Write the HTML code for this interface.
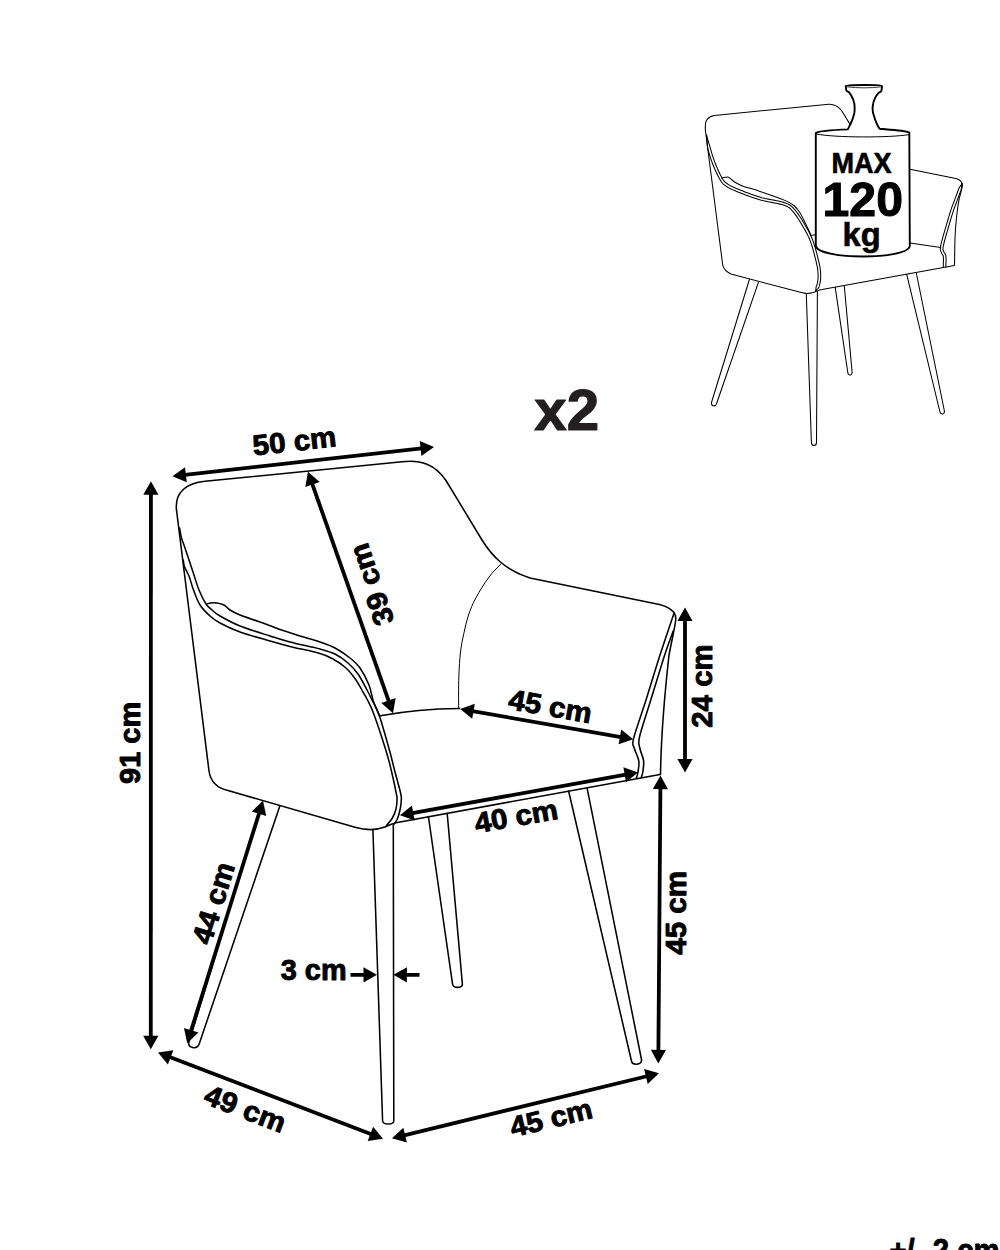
<!DOCTYPE html>
<html><head><meta charset="utf-8"><style>
html,body{margin:0;padding:0;background:#fff;}
body{width:1000px;height:1250px;overflow:hidden;}
svg{display:block;}
text{font-family:"Liberation Sans", sans-serif;}
</style></head><body>
<svg width="1000" height="1250" viewBox="0 0 1000 1250">
<g fill="none" stroke="#000" stroke-width="1.55" stroke-linejoin="round" stroke-linecap="round"><path d="M176.5,510 C174.5,492 187,483 205,481.3 L402,461.8 C421,459.5 435,464.5 446,480.5 L482,540 C492,556 505,570 530,578 L659.4,604.4 C666,606 671,609 673.8,612.3 C675.5,614.5 676,617 675.7,620 C675,626 674,630 673.8,631 L669,655 C664,700 661,740 660.5,774.5"/>
<path d="M176.5,510 L209,771 C210.5,781.5 216.5,788 228,790.5 L355,827.2 C361,829 366,829.8 372,829.6 C378,829.4 382,828 385.8,826.7 C389,825.5 392,823.6 396,822.8 L660,774.4"/>
<path d="M206.50,604.00 C208.00,603.67 209.25,603.17 211.00,603.00 C212.75,602.83 214.83,602.67 217.00,603.00 C219.17,603.33 221.83,603.83 224.00,605.00 C226.17,606.17 227.33,608.33 230.00,610.00 C232.67,611.67 235.00,613.00 240.00,615.00 C245.00,617.00 253.33,619.58 260.00,622.00 C266.67,624.42 273.33,627.17 280.00,629.50 C286.67,631.83 293.33,633.92 300.00,636.00 C306.67,638.08 314.17,640.00 320.00,642.00 C325.83,644.00 330.00,645.33 335.00,648.00 C340.00,650.67 345.83,654.67 350.00,658.00 C354.17,661.33 356.83,663.50 360.00,668.00 C363.17,672.50 366.83,679.67 369.00,685.00 C371.17,690.33 371.30,694.97 373.00,700.00 C374.70,705.03 377.13,710.13 379.20,715.20"/>
<path d="M380.4,715.8 C405,711 432,708.5 459.6,708.4"/>
<path d="M372.9,829.4 L382.6,1121 C383,1125 393.5,1125 393.8,1121 L393.3,824.6"/>
<path d="M428.4,816.5 L452.6,984.3 C453.4,988.4 461.9,988.4 462.4,984.3 L447.2,813.5"/>
<path d="M568.6,791 L631.6,1061.5 C632.6,1065.3 641.2,1065.3 641.6,1060 L587.2,788.6"/>
<path d="M262,802.5 L188.8,1042.5 C187.8,1047.5 196.5,1050 199,1044.5 L280,805.5"/>
<path d="M179.60,528.00 C180.23,531.33 180.60,534.67 181.50,538.00 C182.40,541.33 183.08,542.33 185.00,548.00 C186.92,553.67 190.67,565.00 193.00,572.00 C195.33,579.00 196.83,584.67 199.00,590.00 C201.17,595.33 203.83,600.67 206.00,604.00 C208.17,607.33 209.67,608.00 212.00,610.00 C214.33,612.00 215.33,613.33 220.00,616.00 C224.67,618.67 231.67,622.67 240.00,626.00 C248.33,629.33 261.67,633.33 270.00,636.00 C278.33,638.67 281.67,639.83 290.00,642.00 C298.33,644.17 312.50,647.00 320.00,649.00 C327.50,651.00 330.33,651.67 335.00,654.00 C339.67,656.33 344.17,659.67 348.00,663.00 C351.83,666.33 354.83,669.50 358.00,674.00 C361.17,678.50 364.67,685.67 367.00,690.00 C369.33,694.33 369.97,695.80 372.00,700.00 C374.03,704.20 376.30,706.87 379.20,715.20 C382.10,723.53 386.85,740.87 389.40,750.00 C391.95,759.13 392.63,762.83 394.50,770.00 C396.37,777.17 399.47,788.00 400.60,793.00 C401.73,798.00 401.37,797.33 401.30,800.00 C401.23,802.67 400.85,805.87 400.20,809.00 C399.55,812.13 398.40,816.30 397.40,818.80 C396.40,821.30 395.27,822.27 394.20,824.00"/>
<path d="M183.20,560.00 C183.67,562.33 183.63,564.33 184.60,567.00 C185.57,569.67 187.52,572.17 189.00,576.00 C190.48,579.83 191.67,585.17 193.50,590.00 C195.33,594.83 197.25,600.67 200.00,605.00 C202.75,609.33 206.67,613.00 210.00,616.00 C213.33,619.00 215.00,620.33 220.00,623.00 C225.00,625.67 231.67,629.00 240.00,632.00 C248.33,635.00 261.67,638.58 270.00,641.00 C278.33,643.42 281.67,644.42 290.00,646.50 C298.33,648.58 312.83,651.42 320.00,653.50 C327.17,655.58 328.67,656.58 333.00,659.00 C337.33,661.42 342.17,664.50 346.00,668.00 C349.83,671.50 353.17,676.00 356.00,680.00 C358.83,684.00 361.08,688.67 363.00,692.00 C364.92,695.33 365.70,696.33 367.50,700.00 C369.30,703.67 370.75,705.67 373.80,714.00 C376.85,722.33 382.90,740.67 385.80,750.00 C388.70,759.33 389.43,762.67 391.20,770.00 C392.97,777.33 395.43,789.00 396.40,794.00 C397.37,799.00 397.07,797.50 397.00,800.00 C396.93,802.50 396.77,806.00 396.00,809.00 C395.23,812.00 394.10,815.10 392.40,818.00 C390.70,820.90 388.00,823.60 385.80,826.40"/>
<path d="M674.00,613.20 C669.33,627.13 664.67,640.53 660.00,655.00 C655.33,669.47 650.40,686.10 646.00,700.00 C641.60,713.90 635.57,730.40 633.60,738.40 C631.63,746.40 633.33,744.27 634.20,748.00 C635.07,751.73 638.17,756.80 638.80,760.80 C639.43,764.80 638.40,769.13 638.00,772.00 C637.60,774.87 636.93,776.00 636.40,778.00"/>
<path d="M673.20,631.00 C670.37,639.00 668.43,643.50 664.70,655.00 C660.97,666.50 654.98,686.42 650.80,700.00 C646.62,713.58 641.43,728.50 639.60,736.50 C637.77,744.50 639.13,743.95 639.80,748.00 C640.47,752.05 643.10,756.80 643.60,760.80 C644.10,764.80 643.20,769.20 642.80,772.00 C642.40,774.80 641.73,775.73 641.20,777.60"/></g>
<path d="M501.00,563.80 C497.00,568.20 493.17,571.37 489.00,577.00 C484.83,582.63 479.42,591.27 476.00,597.60 C472.58,603.93 470.53,609.00 468.50,615.00 C466.47,621.00 465.13,627.43 463.80,633.60 C462.47,639.77 461.32,645.10 460.50,652.00 C459.68,658.90 459.22,667.83 458.90,675.00 C458.58,682.17 458.63,689.43 458.60,695.00 C458.57,700.57 458.67,703.93 458.70,708.40" fill="none" stroke="#000" stroke-width="1.0"/>
<line x1="184.92" y1="474.81" x2="421.58" y2="448.39" stroke="#000" stroke-width="3.8"/>
<polygon points="434.00,447.00 421.43,456.05 419.74,440.95" fill="#000"/>
<polygon points="172.50,476.20 186.76,482.25 185.07,467.15" fill="#000"/>
<line x1="312.15" y1="483.59" x2="388.85" y2="701.41" stroke="#000" stroke-width="3.8"/>
<polygon points="393.00,713.20 381.35,702.99 395.68,697.94" fill="#000"/>
<polygon points="308.00,471.80 305.32,487.06 319.65,482.01" fill="#000"/>
<line x1="150.90" y1="493.70" x2="150.80" y2="1036.80" stroke="#000" stroke-width="3.8"/>
<polygon points="150.80,1049.30 143.20,1035.80 158.40,1035.80" fill="#000"/>
<polygon points="150.90,481.20 143.30,494.70 158.50,494.70" fill="#000"/>
<line x1="685.00" y1="620.10" x2="685.00" y2="759.90" stroke="#000" stroke-width="3.8"/>
<polygon points="685.00,772.40 677.40,758.90 692.60,758.90" fill="#000"/>
<polygon points="685.00,607.60 677.40,621.10 692.60,621.10" fill="#000"/>
<line x1="472.51" y1="711.15" x2="620.89" y2="737.05" stroke="#000" stroke-width="3.8"/>
<polygon points="633.20,739.20 618.59,744.37 621.21,729.39" fill="#000"/>
<polygon points="460.20,709.00 472.19,718.81 474.81,703.83" fill="#000"/>
<line x1="412.30" y1="813.08" x2="625.70" y2="774.62" stroke="#000" stroke-width="3.8"/>
<polygon points="638.00,772.40 626.06,782.27 623.37,767.32" fill="#000"/>
<polygon points="400.00,815.30 414.63,820.38 411.94,805.43" fill="#000"/>
<line x1="660.40" y1="788.10" x2="658.40" y2="1050.90" stroke="#000" stroke-width="3.8"/>
<polygon points="658.30,1063.40 650.80,1049.84 666.00,1049.96" fill="#000"/>
<polygon points="660.50,775.60 652.80,789.04 668.00,789.16" fill="#000"/>
<line x1="259.27" y1="812.73" x2="190.93" y2="1031.27" stroke="#000" stroke-width="3.8"/>
<polygon points="187.20,1043.20 183.98,1028.05 198.48,1032.58" fill="#000"/>
<polygon points="263.00,800.80 251.72,811.42 266.22,815.95" fill="#000"/>
<line x1="169.67" y1="1056.98" x2="371.33" y2="1134.32" stroke="#000" stroke-width="3.8"/>
<polygon points="383.00,1138.80 367.67,1141.06 373.12,1126.87" fill="#000"/>
<polygon points="158.00,1052.50 167.88,1064.43 173.33,1050.24" fill="#000"/>
<line x1="404.15" y1="1135.34" x2="646.85" y2="1076.26" stroke="#000" stroke-width="3.8"/>
<polygon points="659.00,1073.30 647.68,1083.88 644.09,1069.11" fill="#000"/>
<polygon points="392.00,1138.30 406.91,1142.49 403.32,1127.72" fill="#000"/>
<line x1="350.50" y1="974.90" x2="364.50" y2="974.79" stroke="#000" stroke-width="3.8"/>
<polygon points="377.00,974.70 363.56,982.40 363.44,967.20" fill="#000"/>
<line x1="419.50" y1="974.90" x2="405.90" y2="974.80" stroke="#000" stroke-width="3.8"/>
<polygon points="393.40,974.70 406.96,967.20 406.84,982.40" fill="#000"/>
<g fill="none" stroke="#000" stroke-width="1.05" stroke-linejoin="round" stroke-linecap="round"><path d="M705.4,130.2 C705,124 705.5,121 707.2,119.4 C709,117 711,115.8 714.4,115.4 L828.9,104.2 C835,104 839,107 841.5,110.5 L849.9,124.1"/>
<path d="M705.4,130.2 L722.75,265.3 C724,270 727,272 731,274 L801.4,292.6 C806,294 810,293.5 813.4,292.6 C816,291.5 819,290 822,289.6 L954.5,265.5 L954.9,240.4 C955.5,225 957,210 959.3,198.2 C961,192 962.4,188 962.4,184.5 C962,181.5 960,179.5 955.8,178.4 L910,169.2"/>
<path d="M721.60,177.90 C723.53,177.60 725.97,176.92 727.40,177.00 C728.83,177.08 729.00,177.57 730.20,178.40 C731.40,179.23 732.43,180.68 734.60,182.00 C736.77,183.32 738.97,184.73 743.20,186.30 C747.43,187.87 752.60,188.85 760.00,191.40 C767.40,193.95 781.17,198.37 787.60,201.60 C794.03,204.83 795.23,206.37 798.60,210.80 C801.97,215.23 805.80,224.22 807.80,228.20 C809.80,232.18 809.67,232.53 810.60,234.70"/>
<path d="M810.6,235.6 L815.7,234.7"/>
<path d="M910,243 L940.8,247.5"/>
<path d="M706.50,135.00 L706.64,135.81 L706.75,136.62 L706.83,137.43 L706.90,138.23 L706.95,139.04 L706.98,139.85 L707.02,140.66 L707.04,141.47 L707.08,142.30 L707.11,143.13 L707.16,143.96 L707.23,144.81 L707.31,145.67 L707.42,146.54 L707.57,147.43 L707.75,148.32 L707.97,149.21 L708.21,150.11 L708.46,151.03 L708.71,151.95 L708.98,152.88 L709.25,153.83 L709.53,154.78 L709.82,155.73 L710.12,156.69 L710.43,157.66 L710.75,158.63 L711.08,159.60 L711.41,160.57 L711.76,161.54 L712.12,162.51 L712.49,163.47 L712.87,164.45 L713.28,165.46 L713.71,166.50 L714.15,167.55 L714.61,168.61 L715.08,169.68 L715.56,170.75 L716.04,171.80 L716.52,172.84 L717.00,173.85 L717.47,174.83 L717.94,175.78 L718.40,176.68 L718.84,177.53 L719.26,178.32 L719.67,179.04 L720.04,179.69 L720.39,180.28 L720.71,180.81 L721.01,181.29 L721.30,181.74 L721.59,182.16 L721.89,182.55 L722.19,182.91 L722.50,183.26 L722.82,183.59 L723.16,183.91 L723.52,184.23 L723.90,184.54 L724.31,184.86 L724.75,185.19 L725.24,185.55 L725.75,185.92 L726.26,186.27 L726.78,186.62 L727.31,186.95 L727.85,187.28 L728.42,187.61 L729.01,187.93 L729.62,188.26 L730.27,188.58 L730.96,188.92 L731.70,189.26 L732.48,189.62 L733.32,189.98 L734.21,190.37 L735.17,190.77 L736.20,191.20 L737.32,191.66 L738.51,192.14 L739.79,192.66 L741.13,193.19 L742.54,193.75 L744.00,194.31 L745.50,194.89 L747.04,195.47 L748.60,196.05 L750.19,196.62 L751.78,197.19 L753.38,197.75 L754.97,198.28 L756.55,198.80 L758.11,199.29 L759.64,199.75 L761.19,200.18 L762.79,200.59 L764.43,200.97 L766.10,201.33 L767.79,201.67 L769.47,202.00 L771.15,202.32 L772.82,202.63 L774.45,202.94 L776.03,203.25 L777.57,203.56 L779.03,203.87 L780.42,204.19 L781.71,204.53 L782.89,204.87 L783.97,205.23 L784.94,205.59 L785.81,205.93 L786.58,206.25 L787.25,206.56 L787.84,206.87 L788.37,207.16 L788.84,207.47 L789.28,207.78 L789.69,208.11 L790.09,208.47 L790.50,208.87 L790.93,209.31 L791.39,209.81 L791.88,210.36 L792.42,210.98 L793.02,211.65 L793.64,212.38 L794.28,213.17 L794.93,214.02 L795.60,214.93 L796.28,215.89 L796.97,216.89 L797.66,217.92 L798.35,218.98 L799.03,220.05 L799.71,221.14 L800.38,222.23 L801.04,223.31 L801.68,224.38 L802.30,225.43 L802.90,226.46 L803.47,227.45 L804.03,228.41 L804.56,229.34 L805.07,230.24 L805.57,231.13 L806.05,232.00 L806.52,232.87 L806.98,233.74 L807.43,234.61 L807.86,235.49 L808.29,236.39 L808.71,237.31 L809.13,238.25 L809.54,239.24 L809.95,240.26 L810.37,241.32 L810.78,242.44 L811.19,243.63 L811.61,244.90 L812.04,246.24 L812.46,247.64 L812.88,249.08 L813.30,250.56 L813.72,252.06 L814.12,253.56 L814.51,255.05 L814.89,256.53 L815.25,257.98 L815.59,259.38 L815.91,260.72 L816.21,261.99 L816.49,263.19 L816.73,264.28 L816.95,265.28 L817.14,266.22 L817.30,267.09 L817.45,267.91 L817.57,268.69 L817.68,269.41 L817.77,270.10 L817.84,270.76 L817.91,271.39 L817.96,272.01 L818.00,272.61 L818.03,273.20 L818.05,273.79 L818.07,274.39 L818.09,275.00 L818.10,275.62 L818.11,276.23 L818.10,276.83 L818.09,277.41 L818.06,277.98 L818.03,278.54 L817.98,279.09 L817.93,279.63 L817.87,280.16 L817.80,280.69 L817.72,281.20 L817.64,281.70 L817.55,282.19 L817.45,282.68 L817.35,283.16 L817.25,283.63 L817.14,284.09 L817.03,284.52 L816.90,284.92 L816.77,285.32 L816.63,285.70 L816.48,286.08 L816.32,286.45 L816.16,286.83 L816.06,287.23 L816.00,287.65 L815.97,288.10 L815.97,288.57 L815.96,289.03 L815.95,289.50 L815.91,289.95 L815.83,290.39 L815.70,290.80"/><path d="M706.50,135.00 L706.66,135.81 L706.85,136.60 L707.04,137.39 L707.25,138.17 L707.47,138.95 L707.70,139.73 L707.93,140.50 L708.18,141.28 L708.43,142.05 L708.69,142.83 L708.95,143.61 L709.21,144.41 L709.48,145.20 L709.74,146.01 L710.00,146.84 L710.25,147.68 L710.49,148.55 L710.72,149.44 L710.96,150.34 L711.22,151.25 L711.48,152.17 L711.74,153.10 L712.02,154.03 L712.31,154.97 L712.60,155.91 L712.90,156.86 L713.21,157.80 L713.53,158.75 L713.86,159.70 L714.20,160.65 L714.55,161.59 L714.91,162.53 L715.29,163.49 L715.69,164.48 L716.11,165.49 L716.55,166.53 L717.00,167.58 L717.46,168.63 L717.93,169.68 L718.40,170.71 L718.87,171.73 L719.34,172.73 L719.81,173.69 L720.27,174.61 L720.71,175.49 L721.14,176.31 L721.54,177.07 L721.93,177.76 L722.29,178.39 L722.62,178.95 L722.92,179.45 L723.20,179.89 L723.46,180.28 L723.70,180.63 L723.93,180.94 L724.16,181.23 L724.40,181.49 L724.64,181.74 L724.91,181.99 L725.20,182.24 L725.52,182.51 L725.89,182.80 L726.30,183.11 L726.76,183.45 L727.24,183.79 L727.72,184.12 L728.19,184.43 L728.68,184.74 L729.18,185.04 L729.69,185.34 L730.24,185.64 L730.81,185.94 L731.43,186.25 L732.08,186.57 L732.78,186.90 L733.54,187.24 L734.35,187.60 L735.23,187.98 L736.18,188.38 L737.20,188.80 L738.30,189.25 L739.49,189.73 L740.76,190.24 L742.09,190.78 L743.49,191.32 L744.93,191.89 L746.42,192.46 L747.95,193.03 L749.50,193.61 L751.07,194.18 L752.65,194.74 L754.22,195.29 L755.79,195.82 L757.35,196.32 L758.87,196.80 L760.36,197.25 L761.86,197.67 L763.40,198.06 L765.00,198.43 L766.64,198.78 L768.30,199.12 L769.97,199.45 L771.64,199.77 L773.30,200.08 L774.93,200.39 L776.54,200.70 L778.10,201.01 L779.60,201.34 L781.03,201.67 L782.39,202.02 L783.66,202.38 L784.83,202.77 L785.87,203.16 L786.79,203.52 L787.63,203.87 L788.38,204.22 L789.08,204.58 L789.71,204.94 L790.30,205.31 L790.85,205.71 L791.37,206.13 L791.86,206.57 L792.34,207.03 L792.82,207.53 L793.31,208.06 L793.83,208.64 L794.37,209.26 L794.98,209.95 L795.64,210.72 L796.32,211.56 L797.01,212.46 L797.71,213.41 L798.41,214.40 L799.12,215.43 L799.83,216.49 L800.53,217.57 L801.23,218.67 L801.92,219.77 L802.60,220.87 L803.27,221.97 L803.91,223.05 L804.54,224.12 L805.15,225.15 L805.73,226.15 L806.28,227.11 L806.82,228.05 L807.34,228.96 L807.84,229.86 L808.34,230.76 L808.82,231.65 L809.29,232.54 L809.75,233.44 L810.20,234.35 L810.65,235.29 L811.08,236.24 L811.52,237.23 L811.95,238.25 L812.37,239.30 L812.80,240.41 L813.22,241.56 L813.65,242.79 L814.09,244.10 L814.52,245.47 L814.95,246.89 L815.38,248.36 L815.81,249.86 L816.22,251.37 L816.63,252.89 L817.03,254.40 L817.41,255.89 L817.77,257.35 L818.12,258.77 L818.44,260.12 L818.75,261.41 L819.02,262.61 L819.27,263.72 L819.49,264.75 L819.69,265.72 L819.86,266.62 L820.01,267.48 L820.14,268.29 L820.26,269.06 L820.35,269.79 L820.43,270.49 L820.50,271.16 L820.55,271.82 L820.59,272.45 L820.63,273.08 L820.65,273.70 L820.67,274.32 L820.69,274.94 L820.70,275.58 L820.71,276.23 L820.70,276.87 L820.68,277.50 L820.66,278.12 L820.62,278.73 L820.57,279.33 L820.51,279.91 L820.45,280.49 L820.37,281.05 L820.29,281.60 L820.20,282.14 L820.10,282.68 L820.00,283.20 L819.89,283.71 L819.78,284.21 L819.66,284.71 L819.53,285.22 L819.38,285.71 L819.23,286.18 L819.06,286.63 L818.88,287.07 L818.70,287.50 L818.51,287.91 L818.25,288.27 L817.94,288.60 L817.60,288.91 L817.24,289.20 L816.87,289.48 L816.51,289.77 L816.19,290.08 L815.91,290.42 L815.70,290.80"/>
<path d="M962.00,183.50 L961.51,184.50 L960.87,185.44 L960.15,186.37 L959.46,187.31 L958.89,188.30 L958.48,189.35 L958.10,190.41 L957.72,191.46 L957.33,192.51 L956.96,193.55 L956.58,194.58 L956.21,195.61 L955.84,196.62 L955.48,197.61 L955.12,198.60 L954.78,199.56 L954.45,200.46 L954.14,201.30 L953.84,202.07 L953.56,202.81 L953.28,203.52 L953.01,204.21 L952.74,204.91 L952.46,205.63 L952.18,206.38 L951.89,207.17 L951.58,208.02 L951.26,208.94 L950.92,209.95 L950.56,211.05 L950.17,212.27 L949.76,213.62 L949.29,215.14 L948.77,216.85 L948.21,218.73 L947.61,220.75 L946.98,222.87 L946.33,225.07 L945.67,227.31 L945.01,229.58 L944.37,231.83 L943.74,234.03 L943.15,236.17 L942.59,238.20 L942.08,240.10 L941.63,241.84 L941.24,243.39 L940.93,244.72 L940.69,245.85 L940.52,246.83 L940.39,247.67 L940.32,248.40 L940.29,249.03 L940.31,249.59 L940.37,250.09 L940.48,250.54 L940.63,250.93 L940.80,251.26 L940.96,251.51 L941.08,251.69 L941.16,251.83 L941.22,251.94 L941.28,252.07 L941.34,252.32 L941.44,252.70 L941.57,253.11 L941.73,253.47 L941.90,253.80 L942.08,254.09 L942.26,254.34 L942.42,254.57 L942.57,254.77 L942.70,254.96 L942.81,255.14 L942.92,255.32 L943.01,255.52 L943.10,255.74 L943.18,256.00 L943.25,256.30 L943.31,256.67 L943.36,257.12 L943.40,257.62 L943.42,258.17 L943.44,258.76 L943.45,259.39 L943.45,260.05 L943.44,260.73 L943.43,261.43 L943.41,262.15 L943.39,262.88 L943.37,263.61 L943.35,264.35 L943.33,265.08 L943.31,265.80 L943.30,266.51 L943.30,267.19"/><path d="M962.00,183.50 L961.73,184.58 L961.62,185.72 L961.57,186.89 L961.50,188.06 L961.30,189.18 L960.93,190.24 L960.54,191.30 L960.16,192.35 L959.78,193.40 L959.40,194.44 L959.02,195.47 L958.65,196.49 L958.29,197.50 L957.92,198.50 L957.57,199.48 L957.22,200.44 L956.89,201.36 L956.57,202.21 L956.27,203.00 L955.98,203.75 L955.70,204.46 L955.43,205.16 L955.16,205.85 L954.89,206.56 L954.62,207.29 L954.33,208.06 L954.04,208.89 L953.72,209.78 L953.39,210.77 L953.04,211.85 L952.66,213.05 L952.24,214.38 L951.78,215.89 L951.26,217.60 L950.70,219.48 L950.10,221.49 L949.47,223.61 L948.82,225.80 L948.17,228.04 L947.51,230.30 L946.87,232.54 L946.24,234.74 L945.65,236.86 L945.10,238.88 L944.59,240.76 L944.15,242.48 L943.77,244.00 L943.47,245.28 L943.24,246.35 L943.08,247.25 L942.97,248.00 L942.91,248.59 L942.89,249.06 L942.90,249.40 L942.93,249.63 L942.97,249.78 L943.01,249.87 L943.06,249.97 L943.14,250.10 L943.26,250.28 L943.43,250.54 L943.60,250.88 L943.75,251.28 L943.86,251.68 L943.93,251.97 L944.00,252.17 L944.08,252.35 L944.16,252.51 L944.27,252.68 L944.39,252.85 L944.53,253.05 L944.68,253.26 L944.86,253.51 L945.04,253.80 L945.22,254.12 L945.39,254.48 L945.55,254.88 L945.69,255.32 L945.80,255.80 L945.89,256.33 L945.95,256.88 L945.99,257.46 L946.02,258.07 L946.04,258.71 L946.05,259.38 L946.05,260.07 L946.04,260.77 L946.02,261.49 L946.01,262.22 L945.99,262.95 L945.97,263.68 L945.95,264.41 L945.93,265.14 L945.91,265.84 L945.90,266.53 L945.90,267.21"/>
<path d="M749.4,279.5 L711.5,402.5 C710.8,406.5 715.8,407 716.6,403.5 L758.5,282.1"/>
<path d="M806.3,294 L811.4,442.5 C811.5,446.5 816.5,446.5 816.5,442.5 L817.4,291.8"/>
<path d="M835.2,287.3 L847.7,372 C848,376 852.3,376 852.1,372 L844.3,286"/>
<path d="M906.7,274.3 L939.7,411 C940.5,415 944.8,415 944.4,411 L916.3,273"/></g>
<path d="M845.7,86 C846,85.2 858,85 864,85 C870,85 882,85.2 882,86 L881.6,90 C881.5,91.5 880,92.3 878.8,92.6 C872,100 871.5,110 874,116 C875.5,121 877,125 879.6,128.8 C895,130 905,130.5 909.3,132.5 L909.8,246 C909,253 885,256.5 863,256.5 C841,256.5 817,253 815.8,246 L815.8,133 C820,130.5 832,130 847.8,129.4 C850,125 853,120 854.3,113 C855.5,105 853,97 848.9,92.1 C847.5,91.6 846.2,91 846.2,90 Z" fill="#fff" stroke="#000" stroke-width="1.9" stroke-linejoin="round"/>
<path d="M816.3,134 C835,137.8 890,137.8 909.3,134.6" fill="none" stroke="#000" stroke-width="1.0"/>
<path d="M847,86.8 C858,88.2 870,88.2 881,86.8" fill="none" stroke="#000" stroke-width="0.8"/>
<g font-family="Liberation Sans, sans-serif" font-weight="bold" fill="#000" stroke="#000" stroke-width="0.9" stroke-linejoin="round"><text id="lab_50cm" transform="translate(294.32,440.89) rotate(-6.5)" x="0" y="10.01" text-anchor="middle" font-size="28.60" textLength="83.80" lengthAdjust="spacingAndGlyphs" stroke-width="0.9">50 cm</text>
<text id="lab_39cm" transform="translate(371.39,584.54) rotate(-108.7)" x="0" y="10.01" text-anchor="middle" font-size="28.60" textLength="84.43" lengthAdjust="spacingAndGlyphs" stroke-width="0.9">39 cm</text>
<text id="lab_91cm" transform="translate(129.54,742.87) rotate(-90)" x="0" y="10.01" text-anchor="middle" font-size="28.60" textLength="82.21" lengthAdjust="spacingAndGlyphs" stroke-width="0.9">91 cm</text>
<text id="lab_24cm" transform="translate(702.32,686.05) rotate(-90)" x="0" y="10.01" text-anchor="middle" font-size="28.60" textLength="83.56" lengthAdjust="spacingAndGlyphs" stroke-width="0.9">24 cm</text>
<text id="lab_45seat" transform="translate(550.40,706.15) rotate(10)" x="0" y="10.01" text-anchor="middle" font-size="28.60" textLength="84.07" lengthAdjust="spacingAndGlyphs" stroke-width="0.9">45 cm</text>
<text id="lab_40cm" transform="translate(516.10,816.01) rotate(-10)" x="0" y="10.01" text-anchor="middle" font-size="28.60" textLength="83.98" lengthAdjust="spacingAndGlyphs" stroke-width="0.9">40 cm</text>
<text id="lab_44cm" transform="translate(213.29,903.06) rotate(-73)" x="0" y="10.01" text-anchor="middle" font-size="28.60" textLength="83.83" lengthAdjust="spacingAndGlyphs" stroke-width="0.9">44 cm</text>
<text id="lab_3cm" transform="translate(313.65,969.78) rotate(0)" x="0" y="10.01" text-anchor="middle" font-size="28.60" textLength="65.84" lengthAdjust="spacingAndGlyphs" stroke-width="0.9">3 cm</text>
<text id="lab_45vert" transform="translate(676.02,912.83) rotate(-90)" x="0" y="10.01" text-anchor="middle" font-size="28.60" textLength="83.89" lengthAdjust="spacingAndGlyphs" stroke-width="0.9">45 cm</text>
<text id="lab_49cm" transform="translate(245.35,1108.65) rotate(21)" x="0" y="10.01" text-anchor="middle" font-size="28.60" textLength="84.50" lengthAdjust="spacingAndGlyphs" stroke-width="0.9">49 cm</text>
<text id="lab_45bot" transform="translate(551.10,1117.75) rotate(-13.5)" x="0" y="10.01" text-anchor="middle" font-size="28.60" textLength="83.69" lengthAdjust="spacingAndGlyphs" stroke-width="0.9">45 cm</text>
<text id="lab_x2" transform="translate(566.70,410.00) rotate(0)" x="0" y="20.03" text-anchor="middle" font-size="57.22" textLength="64.83" lengthAdjust="spacingAndGlyphs" stroke-width="1.2" fill="#231f20" stroke="#231f20">x2</text>
<text id="lab_MAX" transform="translate(861.60,162.95) rotate(0)" x="0" y="10.03" text-anchor="middle" font-size="28.65" textLength="60.16" lengthAdjust="spacingAndGlyphs" stroke-width="0.6">MAX</text>
<text id="lab_120" transform="translate(862.75,198.60) rotate(0)" x="0" y="16.93" text-anchor="middle" font-size="48.38" textLength="80.50" lengthAdjust="spacingAndGlyphs" stroke-width="1.0">120</text>
<text id="lab_kg" transform="translate(861.60,234.55) rotate(0)" x="0" y="11.43" text-anchor="middle" font-size="32.66" textLength="38.09" lengthAdjust="spacingAndGlyphs" stroke-width="0.6">kg</text><text x="889.5" y="1261" font-size="32" textLength="110" lengthAdjust="spacingAndGlyphs">+/- 2 cm</text></g>
</svg>
</body></html>
